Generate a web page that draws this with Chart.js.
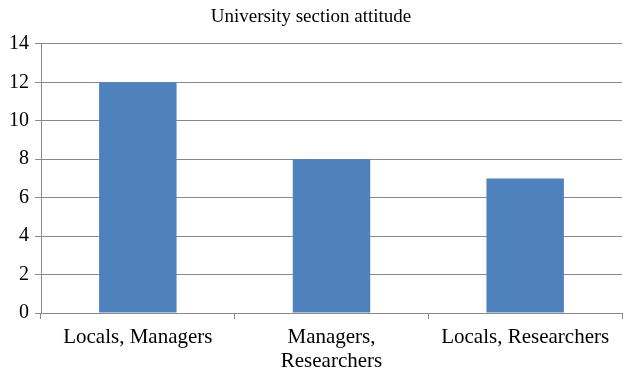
<!DOCTYPE html>
<html>
<head>
<meta charset="utf-8">
<script src="https://cdn.jsdelivr.net/npm/chart.js@4.4.1/dist/chart.umd.min.js"></script>
<style>
  body { margin: 0; background: #fff; }
  #wrap { width: 623px; height: 376px; }
</style>
</head>
<body>
<div id="wrap"><canvas id="chart" width="623" height="376"></canvas></div>
<script>
const categories = ["Locals, Managers", ["Managers,", "Researchers"], "Locals, Researchers"];
const counts = [12, 8, 7];
const yTicks = [0, 2, 4, 6, 8, 10, 12, 14];

const lineColor = "#898989";
const serif = "'Liberation Serif', 'Times New Roman', serif";

new Chart(document.getElementById("chart"), {
  type: "bar",
  data: {
    labels: categories,
    datasets: [{
      data: counts,
      backgroundColor: "#4f81bd",
      barPercentage: 0.4,
      categoryPercentage: 1.0
    }]
  },
  options: {
    responsive: false,
    animation: false,
    layout: { padding: { top: 6, right: 1, left: 0, bottom: 0 } },
    plugins: {
      legend: { display: false },
      tooltip: { enabled: false },
      title: {
        display: true,
        text: "University section attitude",
        color: "#000",
        font: { family: serif, size: 19, weight: "normal" },
        padding: { top: 0, bottom: 15 }
      }
    },
    scales: {
      x: {
        grid: { display: true, drawOnChartArea: false, offset: true, tickLength: 6, color: lineColor },
        border: { color: lineColor },
        ticks: {
          color: "#000",
          font: { family: serif, size: 21, lineHeight: 1.15 },
          padding: 6,
          maxRotation: 0,
          autoSkip: false
        },
        afterFit: s => { s.height = 63; }
      },
      y: {
        min: 0,
        max: 14,
        afterBuildTicks: s => { s.ticks = yTicks.map(v => ({ value: v })); },
        grid: { color: lineColor, tickLength: 6 },
        border: { color: lineColor },
        ticks: { color: "#000", font: { family: serif, size: 20 }, padding: 6 },
        afterFit: s => { s.width = 41; }
      }
    }
  }
});
</script>
</body>
</html>
